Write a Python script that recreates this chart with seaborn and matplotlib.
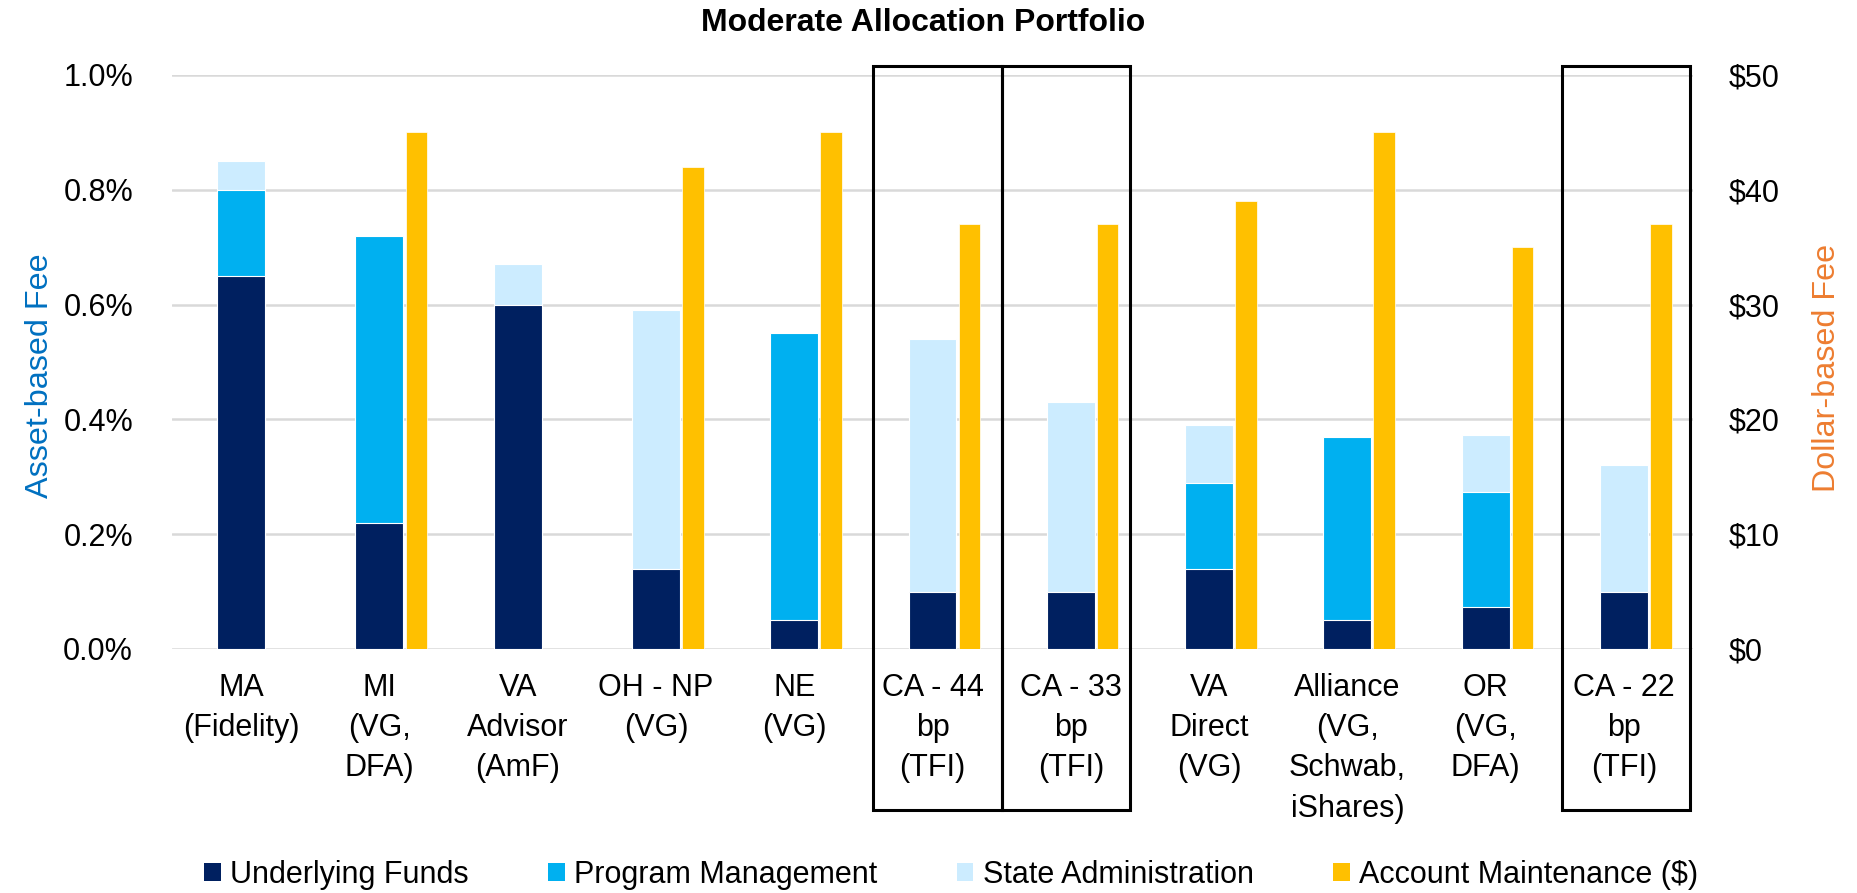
import numpy as np
import pandas as pd
import matplotlib
matplotlib.use("Agg")
import matplotlib.pyplot as plt
import matplotlib.transforms as mtransforms
from matplotlib.patches import Rectangle, Patch
from matplotlib.ticker import FuncFormatter, MultipleLocator
import seaborn as sns

# ---------------- data ----------------
categories = ["MA\n(Fidelity)", "MI\n(VG,\nDFA)", "VA\nAdvisor\n(AmF)", "OH - NP\n(VG)", "NE\n(VG)",
              "CA - 44\nbp\n(TFI)", "CA - 33\nbp\n(TFI)", "VA\nDirect\n(VG)", "Alliance\n(VG,\nSchwab,\niShares)",
              "OR\n(VG,\nDFA)", "CA - 22\nbp\n(TFI)"]
underlying_funds = [0.65, 0.22, 0.60, 0.14, 0.05, 0.10, 0.10, 0.14, 0.05, 0.073, 0.10]
program_mgmt     = [0.15, 0.50, 0.00, 0.00, 0.50, 0.00, 0.00, 0.15, 0.32, 0.20, 0.00]
state_admin      = [0.05, 0.00, 0.07, 0.45, 0.00, 0.44, 0.33, 0.10, 0.00, 0.10, 0.22]
account_maint    = [np.nan, 45, np.nan, 42, 45, 37, 37, 39, 45, 35, 37]
series_names = ["Underlying Funds", "Program Management", "State Administration", "Account Maintenance ($)"]
boxed = ["CA - 44\nbp\n(TFI)", "CA - 33\nbp\n(TFI)", "CA - 22\nbp\n(TFI)"]

colors = ["#002060", "#00B0F0", "#CCECFF", "#FFC000"]

# ---------------- style ----------------
sns.set_theme(style="white")
plt.rcParams["font.family"] = ["Liberation Sans", "DejaVu Sans"]
plt.rcParams["text.color"] = "black"
plt.rcParams["axes.labelcolor"] = "black"
plt.rcParams["xtick.color"] = "black"
plt.rcParams["ytick.color"] = "black"
FS = 22
LFS = 23.3

fig = plt.figure(figsize=(18.58, 8.93), dpi=100)
ax = fig.add_axes([172 / 1858, 1 - 649 / 893, 1521 / 1858, 574 / 893])

idx = np.arange(len(categories), dtype=float)
uf = np.array(underlying_funds)
pm = np.array(program_mgmt)
sa = np.array(state_admin)
layers = [uf + pm + sa, uf + pm, uf]
layer_colors = [colors[2], colors[1], colors[0]]

W1 = 0.347
for tot, c in zip(layers, layer_colors):
    df = pd.DataFrame({"x": idx, "y": tot})
    sns.barplot(data=df, x="x", y="y", native_scale=True, width=W1, color=c,
                saturation=1, errorbar=None, edgecolor="white", linewidth=0.8, ax=ax)

ax.set_ylim(0, 1.0)
ax.set_xlim(-0.5, len(categories) - 0.5)
ax.yaxis.set_major_locator(MultipleLocator(0.2))
ax.yaxis.set_major_formatter(FuncFormatter(lambda v, p: f"{v:.1f}%"))
ax.grid(axis="y", color="#D9D9D9", linewidth=1.8)
ax.grid(axis="x", visible=False)
ax.set_axisbelow(True)
for s in ax.spines.values():
    s.set_visible(False)
ax.set_xticks(idx)
ax.set_xticklabels(categories, fontsize=FS, linespacing=1.45)
ax.tick_params(axis="x", length=0, pad=17, colors="black")
ax.tick_params(axis="y", length=0, pad=28, labelsize=FS, colors="black")
ax.set_xlabel("")
ax.set_ylabel("Asset-based Fee", color="#0070C0", fontsize=LFS)
ax.yaxis.set_label_coords(-0.077, 0.477)

# secondary axis
ax2 = ax.twinx()
am = np.array(account_maint, dtype=float)
mask = ~np.isnan(am)
df2 = pd.DataFrame({"x": idx[mask] + 0.267, "y": am[mask]})
sns.barplot(data=df2, x="x", y="y", native_scale=True, width=0.156, color=colors[3],
            saturation=1, errorbar=None, edgecolor="white", linewidth=0.5, ax=ax2)
ax2.set_xlim(-0.5, len(categories) - 0.5)
ax2.set_ylim(0, 50)
ax2.yaxis.set_major_locator(MultipleLocator(10))
ax2.yaxis.set_major_formatter(FuncFormatter(lambda v, p: f"${v:.0f}"))
ax2.tick_params(axis="y", length=0, pad=26, labelsize=FS, colors="black")
ax2.grid(False)
for s in ax2.spines.values():
    s.set_visible(False)
ax2.set_xlabel("")
ax2.set_ylabel("Dollar-based Fee", color="#ED7D31", fontsize=LFS, rotation=90)
ax2.yaxis.set_label_coords(1.078, 0.489)

# boxes around CA categories
trans = mtransforms.blended_transform_factory(ax.transData, ax.transAxes)
box_offsets = {boxed[0]: (-0.431, 0.501), boxed[1]: (-0.499, 0.427), boxed[2]: (-0.449, 0.476)}
for lab in boxed:
    i = categories.index(lab)
    lo, hi = box_offsets[lab]
    r = Rectangle((i + lo, -0.2805), hi - lo, 1.0157 + 0.2805, transform=trans,
                  fill=False, edgecolor="black", linewidth=2.2, clip_on=False, zorder=10)
    ax2.add_patch(r)

# title
fig.text(923 / 1858, 1 - 23 / 893, "Moderate Allocation Portfolio", ha="center", va="center",
         fontsize=23, fontweight="bold", color="black")

# legend
handles = [Patch(facecolor=c, edgecolor="none") for c in colors]
fig.legend(handles, series_names, loc="center", bbox_to_anchor=(951 / 1858, 1 - 875 / 893), ncol=4,
           frameon=False, fontsize=FS, handlelength=0.55, handleheight=0.55, handletextpad=0.3,
           columnspacing=2.6, borderaxespad=0, borderpad=0)

fig.savefig("out.png", dpi=100)
